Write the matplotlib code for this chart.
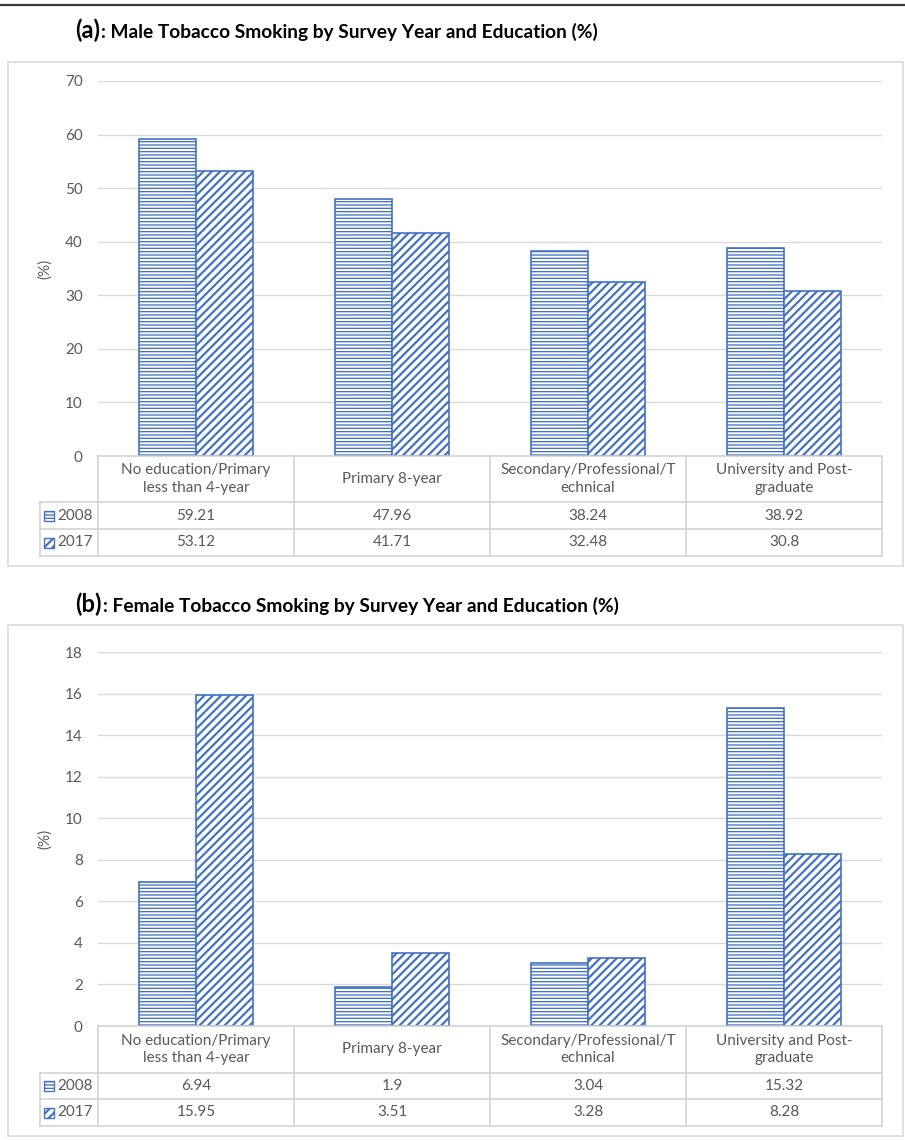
import matplotlib
matplotlib.use("Agg")
import matplotlib.pyplot as plt
from matplotlib.patches import Rectangle
from matplotlib.lines import Line2D
import numpy as np

# ---- data -------------------------------------------------------------
categories = [
    "No education/Primary\nless than 4-year",
    "Primary 8-year",
    "Secondary/Professional/T\nechnical",
    "University and Post-\ngraduate",
]
series_labels = ["2008", "2017"]
male_2008 = [59.21, 47.96, 38.24, 38.92]
male_2017 = [53.12, 41.71, 32.48, 30.8]
female_2008 = [6.94, 1.9, 3.04, 15.32]
female_2017 = [15.95, 3.51, 3.28, 8.28]
male_ticks = [0, 10, 20, 30, 40, 50, 60, 70]
female_ticks = [0, 2, 4, 6, 8, 10, 12, 14, 16, 18]
titles = [("(a)", ": Male Tobacco Smoking by Survey Year and Education (%)"),
          ("(b)", ": Female Tobacco Smoking by Survey Year and Education (%)")]

# ---- style ------------------------------------------------------------
FONT = ["Lato", "DejaVu Sans"]
plt.rcParams["font.family"] = FONT
BLUE = "#4472C4"
GREY_TXT = "#595959"
GRID = "#D9D9D9"
TABLE_LINE = "#D0D0D0"
HATCHES = ["-----", "////"]
HATCH_LW = [0.95, 1.6]

W, H = 905, 1140
fig = plt.figure(figsize=(W / 100, H / 100), dpi=100)


def box(x0, y0, x1, y1):
    """Pixel box (top-left origin) -> figure fraction rect."""
    return [x0 / W, 1 - y1 / H, (x1 - x0) / W, (y1 - y0) / H]


def hatched(artist, i):
    try:
        artist.set_hatch_linewidth(HATCH_LW[i])
    except AttributeError:
        pass


renderer = fig.canvas.get_renderer()

# thin rule across the top of the page
fig.add_artist(Line2D([0, 1], [1 - 4.5 / H] * 2, color="#3a3a3a", lw=1.6,
                      transform=fig.transFigure))


def panel(title, v08, v17, ticks, frame, title_y, plot_top, plot_bot, rows):
    # outer frame
    fx0, fy0, fx1, fy1 = frame
    fig.add_artist(Rectangle((fx0 / W, 1 - fy1 / H), (fx1 - fx0) / W,
                             (fy1 - fy0) / H, transform=fig.transFigure,
                             fill=False, edgecolor=GRID, lw=1.2))

    # title: bold tag followed by bold caption sharing a baseline
    t1 = fig.text(75 / W, 1 - title_y / H, title[0], fontsize=17,
                  fontweight="bold", va="baseline", ha="left", color="black")
    bb = t1.get_window_extent(renderer)
    fig.text(bb.x1 / W + 1 / W, 1 - title_y / H, title[1], fontsize=13.8,
             fontweight="bold", va="baseline", ha="left", color="black")

    # bar chart
    ax = fig.add_axes(box(98, plot_top, 882, plot_bot))
    x = np.arange(len(categories))
    w = 0.29
    for i, vals in enumerate([v08, v17]):
        plt.rcParams["hatch.linewidth"] = HATCH_LW[i]
        bars = ax.bar(x - w if i == 0 else x, vals, w, align="edge",
                      facecolor="white", edgecolor=BLUE, hatch=HATCHES[i],
                      lw=1.2, zorder=3)
        for b in bars:
            hatched(b, i)
    ax.set_xlim(-0.5, len(categories) - 0.5)
    ax.set_ylim(ticks[0], ticks[-1])
    ax.set_yticks(ticks)
    ax.set_xticks([])
    ax.tick_params(axis="y", length=0, pad=11, labelsize=11,
                   labelcolor=GREY_TXT)
    ax.grid(axis="y", color=GRID, lw=1, zorder=0)
    for s in ax.spines.values():
        s.set_visible(False)
    fig.text(45 / W, 1 - (plot_top + plot_bot) / 2 / H, "(%)", rotation=90,
             ha="center", va="center", fontsize=11, color=GREY_TXT)

    # data table beneath the bars
    head, r1, r2 = rows
    total = head + r1 + r2
    lab_w = 58 / 196
    tax = fig.add_axes(box(40, plot_bot, 882, plot_bot + total))
    left = -0.5 - lab_w
    right = len(categories) - 0.5
    tax.set_xlim(left, right)
    tax.set_ylim(total, 0)
    tax.axis("off")
    lk = dict(color=TABLE_LINE, lw=1.1, clip_on=False)
    tax.plot([-0.5, right], [0, 0], **lk)
    for yy in (head, head + r1, total):
        tax.plot([left, right], [yy, yy], **lk)
    tax.plot([left, left], [head, total], **lk)
    for xx in np.arange(-0.5, right + 0.01, 1.0):
        tax.plot([xx, xx], [0, total], **lk)
    for i, c in enumerate(categories):
        tax.text(i, head / 2, c, ha="center", va="center", fontsize=11,
                 color=GREY_TXT, linespacing=1.35)
    ys = [head + r1 / 2, head + r1 + r2 / 2]
    for k, vals in enumerate([v08, v17]):
        for i, v in enumerate(vals):
            tax.text(i, ys[k], f"{v:g}", ha="center", va="center",
                     fontsize=11, color=GREY_TXT)
        # legend key + series name
        kx = left + 4 / 196
        ks = 10
        plt.rcParams["hatch.linewidth"] = HATCH_LW[k]
        key = Rectangle((kx, ys[k] - ks / 2), ks / 196, ks, facecolor="white",
                        edgecolor=BLUE, hatch=HATCHES[k], lw=1.0)
        hatched(key, k)
        tax.add_patch(key)
        tax.text(left + 17 / 196, ys[k], series_labels[k], ha="left",
                 va="center", fontsize=11, color=GREY_TXT)


panel(titles[0], male_2008, male_2017, male_ticks,
      (8, 62, 903, 566), 38, 81, 456, (46, 27, 27))
panel(titles[1], female_2008, female_2017, female_ticks,
      (8, 625, 903, 1136), 612, 652, 1026, (47, 26, 27))

fig.savefig("out.png", dpi=100)
